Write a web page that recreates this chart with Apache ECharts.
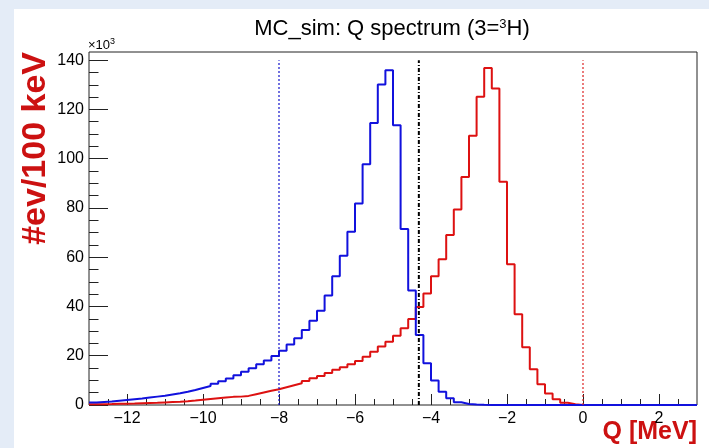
<!DOCTYPE html>
<html><head><meta charset="utf-8">
<script src="https://cdn.jsdelivr.net/npm/echarts@6/dist/echarts.min.js"></script>
<style>html,body{margin:0;padding:0;background:#e4ecf7}#c{width:709px;height:448px}</style>
</head><body><div id="c"></div>
<script>
// Histogram binning (MeV)
const binStart = -13;
const binWidth = 0.2;
const xMin = -13, xMax = 3;
const yMin = 0, yMax = 143.3;

// counts per bin, in units of 10^3 events
const blueCounts = [
  1.0, 1.2, 1.4, 1.7, 2.0, 2.3, 2.6, 3.0, 3.4, 3.8,
  4.3, 4.8, 5.4, 6.1, 6.9, 7.7, 8.6, 9.6, 10.8, 12.1,
  13.5, 14.9, 16.5, 18.1, 19.9, 22.0, 24.6, 27.1, 30.4, 34.2,
  38.3, 44.5, 52.3, 60.6, 70.3, 81.8, 97.7, 114.5, 130.1, 135.9,
  113.6, 71.4, 46.5, 28.4, 16.9, 9.9, 5.4, 2.7, 1.1, 0.4,
  0.2, 0.1, 0.05, 0, 0, 0, 0, 0, 0, 0,
  0, 0, 0, 0, 0, 0, 0, 0, 0, 0,
  0, 0, 0, 0, 0, 0, 0, 0, 0, 0
];
const redCounts = [
  0.3, 0.35, 0.4, 0.5, 0.55, 0.6, 0.7, 0.8, 0.9, 1.05,
  1.2, 1.35, 1.55, 1.8, 2.1, 2.4, 2.7, 3.0, 3.3, 3.4,
  3.7, 4.4, 5.1, 5.8, 6.4, 7.2, 8.0, 8.8, 9.7, 10.9,
  11.8, 13.0, 14.3, 15.3, 16.5, 17.9, 19.6, 21.6, 23.7, 25.7,
  28.1, 31.2, 34.9, 39.8, 45.3, 52.3, 59.2, 69.0, 79.4, 92.6,
  109.3, 125.1, 136.8, 128.5, 90.6, 57.1, 36.8, 23.4, 14.5, 8.4,
  4.7, 2.3, 0.9, 0.3, 0, 0, 0, 0, 0, 0,
  0, 0, 0, 0, 0, 0, 0, 0, 0, 0
];

// tick values
const xMajorTicks = [-12, -10, -8, -6, -4, -2, 0, 2];
const xMinorTicks = [-12.5, -11.5, -11, -10.5, -9.5, -9, -8.5, -7.5, -7, -6.5, -5.5, -5, -4.5, -3.5, -3, -2.5, -1.5, -1, -0.5, 0.5, 1, 1.5, 2.5];
const yMajorTicks = [0, 20, 40, 60, 80, 100, 120, 140];
const yMinorTicks = [5, 10, 15, 25, 30, 35, 45, 50, 55, 65, 70, 75, 85, 90, 95, 105, 110, 115, 125, 130, 135];

// vertical cut lines
const cutBlueX = -8;
const cutBlackX = -4.32;
const cutRedX = 0;
const cutTop = 140;

const FONT = "'Liberation Sans', Arial, Helvetica, sans-serif";
const AXC = '#222';

function histData(vals) {
  const d = vals.map((v, i) => [Math.round((binStart + i * binWidth) * 100) / 100, v]);
  d.push([xMax, vals[vals.length - 1]]);
  return d;
}
function cutLine(x) { return [[x, yMin], [x, cutTop]]; }
const fmt = v => String(v).replace('-', '\u2212');

const chart = echarts.init(document.getElementById('c'), null, {renderer: 'canvas'});
chart.setOption({
  animation: false,
  backgroundColor: '#e4ecf7',
  graphic: [
    {type: 'rect', z: -100, silent: true, shape: {x: 14, y: 9, width: 695, height: 439}, style: {fill: '#ffffff'}},
    {type: 'text', x: 392, y: 29, style: {
      text: 'MC_sim: Q spectrum (3={s|3}H)', align: 'center', verticalAlign: 'middle',
      font: '22px ' + FONT, fill: '#000',
      rich: {s: {fontSize: 13, fontFamily: FONT, verticalAlign: 'top', lineHeight: 13, padding: [0, 0, 12, 0]}}
    }},
    {type: 'text', x: 88, y: 45, style: {
      text: '\u00d710{s|3}', align: 'left', verticalAlign: 'middle',
      font: '13px ' + FONT, fill: '#000',
      rich: {s: {fontSize: 9, fontFamily: FONT, padding: [0, 0, 7, 0]}}
    }},
    {type: 'text', x: 36, y: 52, rotation: Math.PI / 2, style: {
      text: '#ev/100 keV', align: 'right', verticalAlign: 'middle',
      font: 'bold 34px ' + FONT, fill: '#cc1111'
    }},
    {type: 'text', x: 697, y: 445, style: {
      text: 'Q [MeV]', align: 'right', verticalAlign: 'bottom',
      font: 'bold 25px ' + FONT, fill: '#cc1111'
    }}
  ],
  grid: {left: 89, right: 12, top: 52, bottom: 43, show: true, backgroundColor: '#ffffff', borderColor: AXC, borderWidth: 1, containLabel: false, outerBoundsMode: 'none'},
  xAxis: [
    {type: 'value', min: xMin, max: xMax, position: 'bottom',
      axisLine: {show: false, onZero: false}, splitLine: {show: false},
      axisTick: {show: true, inside: true, length: 11, customValues: xMajorTicks, lineStyle: {color: AXC}},
      axisLabel: {show: true, customValues: xMajorTicks, formatter: fmt, margin: 6, fontSize: 16, fontFamily: FONT, color: '#000'}},
    {type: 'value', min: xMin, max: xMax, position: 'bottom',
      axisLine: {show: false, onZero: false}, splitLine: {show: false},
      axisTick: {show: true, inside: true, length: 6, customValues: xMinorTicks, lineStyle: {color: AXC}},
      axisLabel: {show: false}}
  ],
  yAxis: [
    {type: 'value', min: yMin, max: yMax, position: 'left',
      axisLine: {show: false, onZero: false}, splitLine: {show: false},
      axisTick: {show: true, inside: true, length: 19, customValues: yMajorTicks, lineStyle: {color: AXC}},
      axisLabel: {show: true, customValues: yMajorTicks, margin: 5, fontSize: 16, fontFamily: FONT, color: '#000'}},
    {type: 'value', min: yMin, max: yMax, position: 'left',
      axisLine: {show: false, onZero: false}, splitLine: {show: false},
      axisTick: {show: true, inside: true, length: 9.5, customValues: yMinorTicks, lineStyle: {color: AXC}},
      axisLabel: {show: false}}
  ],
  series: [
    {type: 'line', name: 'red', xAxisIndex: 0, yAxisIndex: 0, step: 'end', symbol: 'none', data: histData(redCounts),
      lineStyle: {color: '#dd1111', width: 2}},
    {type: 'line', name: 'blue', xAxisIndex: 0, yAxisIndex: 0, step: 'end', symbol: 'none', data: histData(blueCounts),
      lineStyle: {color: '#1111dd', width: 2}},
    {type: 'line', xAxisIndex: 0, yAxisIndex: 0, symbol: 'none', data: cutLine(cutBlueX),
      lineStyle: {color: '#1111cc', width: 1.2, type: [2, 2]}},
    {type: 'line', xAxisIndex: 0, yAxisIndex: 0, symbol: 'none', data: cutLine(cutRedX),
      lineStyle: {color: '#dd2222', width: 1.2, type: [2, 2]}},
    {type: 'line', xAxisIndex: 0, yAxisIndex: 0, symbol: 'none', data: cutLine(cutBlackX),
      lineStyle: {color: '#000000', width: 2, type: [4, 2, 1, 2]}}
  ]
});
</script></body></html>
